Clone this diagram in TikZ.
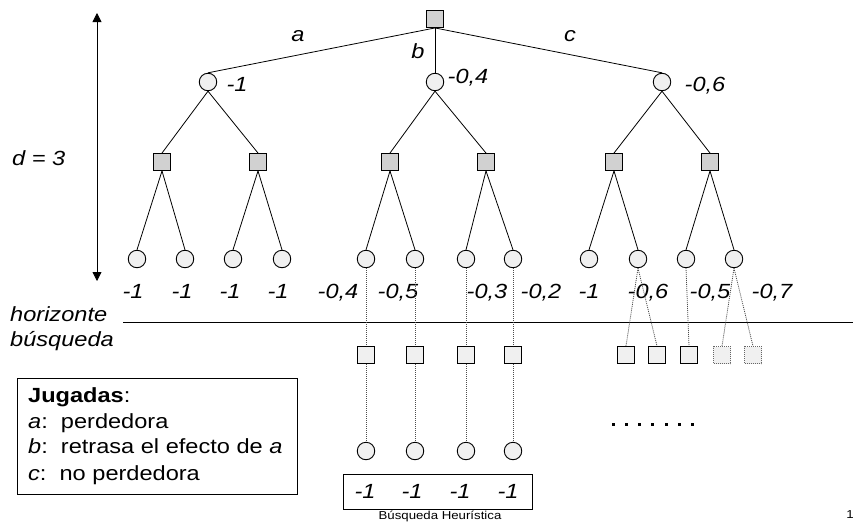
\documentclass[tikz,border=0pt]{standalone}
\usepackage{fontspec}
\setmainfont{Liberation Sans}[FakeStretch=1.15]
\usetikzlibrary{arrows.meta}
\definecolor{maxfill}{gray}{0.82}
\definecolor{minfill}{gray}{0.94}

\begin{document}
\begin{tikzpicture}[x=1pt,y=-1pt,
  maxnode/.style={draw, line width=0.9pt, fill=maxfill, minimum size=17pt, inner sep=0pt},
  minnode/.style={draw, circle, line width=0.9pt, fill=minfill, minimum size=17.5pt, inner sep=0pt},
  lownode/.style={draw, line width=1pt, fill=minfill, minimum size=17pt, inner sep=0pt},
  ghostnode/.style={draw=black!60, dash pattern=on 1pt off 1pt, line width=0.8pt, fill=minfill, minimum size=17pt, inner sep=0pt},
  edge/.style={line width=0.8pt},
  cont/.style={line width=0.8pt, black!70, dash pattern=on 1pt off 1pt},
  val/.style={font=\fontsize{20.5}{25}\selectfont\itshape, anchor=base, inner sep=0pt},
  txt/.style={font=\fontsize{20.5}{25}\selectfont, anchor=base west, inner sep=0pt},
  small/.style={font=\fontsize{11.5}{14}\selectfont, anchor=base, inner sep=0pt},
  depth/.style={line width=0.8pt, {Triangle[width=9pt,length=9pt]}-{Triangle[width=9pt,length=9pt]}}
]
\useasboundingbox (0,0) rectangle (853,522);

% root (MAX)
\node[maxnode] (r) at (435,19) {};

% level 1 (MIN)
\node[minnode] (a) at (208,82) {};
\node[minnode] (b) at (435,82) {};
\node[minnode] (c) at (662,82) {};

% level 2 (MAX)
\node[maxnode] (a1) at (162,162) {};
\node[maxnode] (a2) at (258,162) {};
\node[maxnode] (b1) at (390,162) {};
\node[maxnode] (b2) at (486,162) {};
\node[maxnode] (c1) at (614,162) {};
\node[maxnode] (c2) at (710,162) {};

% level 3 (MIN) leaves at the horizon
\foreach \n/\x in {a11/137,a12/185,a21/233,a22/282,b11/366,b12/415,b21/466,b22/513,c11/589,c12/638,c21/686,c22/734}
  \node[minnode] (\n) at (\x,259) {};

% tree edges
\foreach \p in {a,b,c} \draw[edge] (r.south) -- (\p.north);
\foreach \p/\q in {a/a1,a/a2,b/b1,b/b2,c/c1,c/c2} \draw[edge] (\p.south) -- (\q.north);
\foreach \p/\q in {a1/a11,a1/a12,a2/a21,a2/a22,b1/b11,b1/b12,b2/b21,b2/b22,c1/c11,c1/c12,c2/c21,c2/c22}
  \draw[edge] (\p.south) -- (\q.north);

% move labels
\node[val] (la) at (298,41) {a};
\node[val] (lb) at (418,58) {b};
\node[val] (lc) at (570,41) {c};

% level 1 values
\node[val] (va) at (237,91) {-1};
\node[val] (vb) at (468,83) {-0,4};
\node[val] (vc) at (705,91) {-0,6};

% leaf values
\foreach \x/\t in {133/-1,182/-1,230/-1,278/-1,338/{-0,4},398/{-0,5},487/{-0,3},541/{-0,2},589/-1,648/{-0,6},710/{-0,5},772/{-0,7}}
  \node[val] at (\x,298) {\t};

% depth arrow
\coordinate (dtop) at (97,13);
\coordinate (dbot) at (97,281);
\draw[depth] (dtop) -- (dbot);
\node[val, anchor=base west] (dlab) at (12,165) {d = 3};

% search horizon
\coordinate (hl) at (123,322);
\coordinate (hr) at (853,322);
\draw[line width=1pt] (hl) -- (hr);
\node[val, anchor=base west] (h1) at (10,321) {horizonte};
\node[val, anchor=base west] (h2) at (10,346) {búsqueda};

% continuation beyond the horizon
\foreach \n/\x in {s1/366,s2/415,s3/466,s4/513,s5/626,s6/657,s7/689}
  \node[lownode] (\n) at (\x,355) {};
\node[ghostnode] (s8) at (722,355) {};
\node[ghostnode] (s9) at (753,355) {};

\foreach \n/\x in {t1/366,t2/415,t3/466,t4/513}
  \node[minnode] (\n) at (\x,451) {};

\foreach \p/\q in {b11/s1,b12/s2,b21/s3,b22/s4,c12/s5,c12/s6,c21/s7,c22/s8,c22/s9}
  \draw[cont] (\p.south) -- (\q.north);
\foreach \p/\q in {s1/t1,s2/t2,s3/t3,s4/t4}
  \draw[cont] (\p.south) -- (\q.north);

% values found below the horizon
\node[draw, line width=0.9pt, minimum width=189pt, minimum height=35pt, inner sep=0pt] (vbox) at (437.5,491.5) {};
\foreach \x in {365,412,460,508}
  \node[val] at (\x,498) {-1};

% ellipsis
\foreach \i in {0,...,6}
  \fill (613+13.3*\i-1.5,422.5) rectangle ++(3,3);

% legend
\node[draw, line width=0.9pt, minimum width=280pt, minimum height=116pt, inner sep=0pt, anchor=north west] (legend) at (17,378) {};
\node[txt] (g0) at (28,402) {\textbf{Jugadas}:};
\node[txt] (g1) at (28,428) {\textit{a}:\ \ perdedora};
\node[txt] (g2) at (28,453) {\textit{b}:\ \ retrasa el efecto de \textit{a}};
\node[txt] (g3) at (28,480) {\textit{c}:\ \ no perdedora};

% footer
\node[small] (foot) at (440,519) {Búsqueda Heurística};
\node[small] (page) at (850,518) {1};
\end{tikzpicture}
\end{document}
